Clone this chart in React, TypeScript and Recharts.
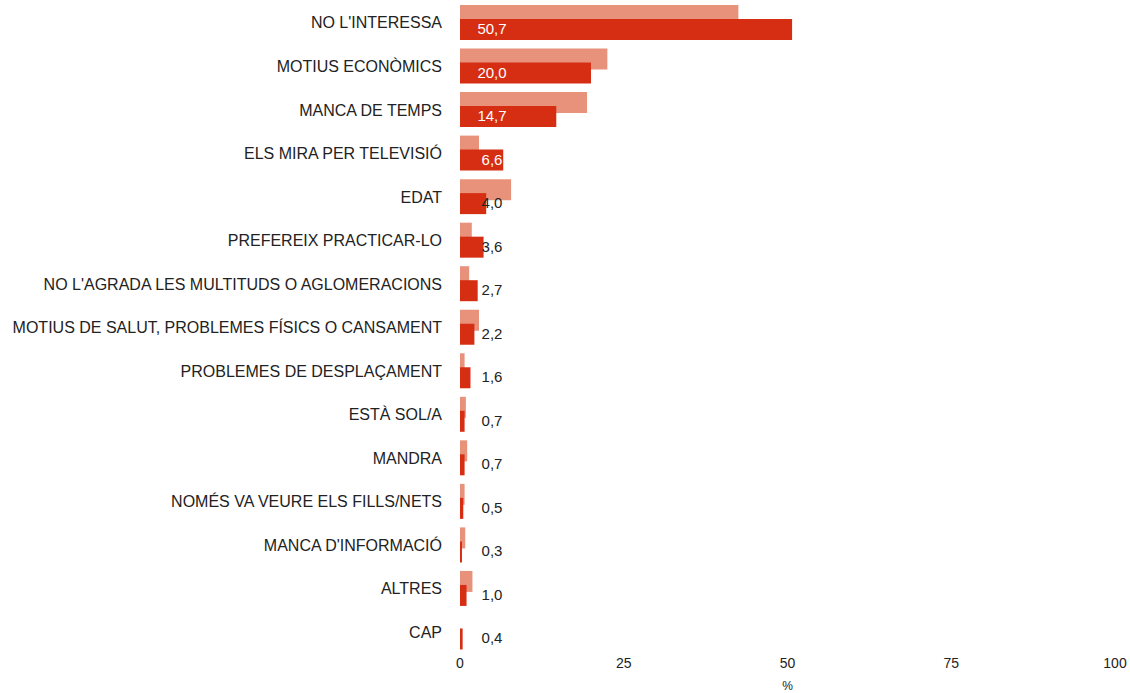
import { BarChart, Bar, XAxis, YAxis, LabelList } from "recharts";

// reasons for not attending, % — previous wave (light) vs current (dark)
const categories = [
  "NO L'INTERESSA",
  "MOTIUS ECONÒMICS",
  "MANCA DE TEMPS",
  "ELS MIRA PER TELEVISIÓ",
  "EDAT",
  "PREFEREIX PRACTICAR-LO",
  "NO L'AGRADA LES MULTITUDS O AGLOMERACIONS",
  "MOTIUS DE SALUT, PROBLEMES FÍSICS O CANSAMENT",
  "PROBLEMES DE DESPLAÇAMENT",
  "ESTÀ SOL/A",
  "MANDRA",
  "NOMÉS VA VEURE ELS FILLS/NETS",
  "MANCA D'INFORMACIÓ",
  "ALTRES",
  "CAP",
];
const previous = [42.5, 22.5, 19.4, 2.9, 7.8, 1.8, 1.4, 2.9, 0.7, 0.9, 1.1, 0.7, 0.8, 1.9, 0];
const current = [50.7, 20.0, 14.7, 6.6, 4.0, 3.6, 2.7, 2.2, 1.6, 0.7, 0.7, 0.5, 0.3, 1.0, 0.4];
const xTicks = [0, 25, 50, 75, 100];

const data = categories.map((name, i) => ({ name, previous: previous[i], current: current[i] }));

const FONT = "'Liberation Sans', Arial, sans-serif";
const fmt = (v: number) => v.toFixed(1).replace(".", ",");

function ValueLabel(props: any) {
  const { x, y, height, value } = props;
  return (
    <text
      x={x + 32}
      y={y + height / 2 - 1}
      textAnchor="middle"
      dominantBaseline="central"
      fontSize={15}
      fontFamily={FONT}
      fill={value > 5 ? "#ffffff" : "#222222"}
    >
      {fmt(value)}
    </text>
  );
}

export default function App() {
  return (
    <div style={{ position: "absolute", left: 0, top: 0, background: "#fff" }}>
      <BarChart
        width={1130}
        height={693}
        data={data}
        layout="vertical"
        margin={{ top: 1, right: 15, bottom: 0, left: 0 }}
        barSize={21}
        barGap={-7}
      >
        <XAxis
          type="number"
          domain={[0, 100]}
          ticks={xTicks}
          axisLine={false}
          tickLine={false}
          tickSize={0}
          tickMargin={4}
          height={39}
          tick={{ fontSize: 14, fill: "#222", fontFamily: FONT }}
          label={{ value: "%", position: "insideBottom", offset: 3, fontSize: 12, fill: "#222", fontFamily: FONT }}
        />
        <YAxis
          type="category"
          dataKey="name"
          width={460}
          axisLine={false}
          tickLine={false}
          tickSize={0}
          tickMargin={18}
          interval={0}
          tick={{ fontSize: 16, fill: "#222", fontFamily: FONT }}
        />
        <Bar dataKey="previous" fill="#e8927c" isAnimationActive={false} />
        <Bar dataKey="current" fill="#d52e12" isAnimationActive={false}>
          <LabelList dataKey="current" content={<ValueLabel />} />
        </Bar>
      </BarChart>
    </div>
  );
}
